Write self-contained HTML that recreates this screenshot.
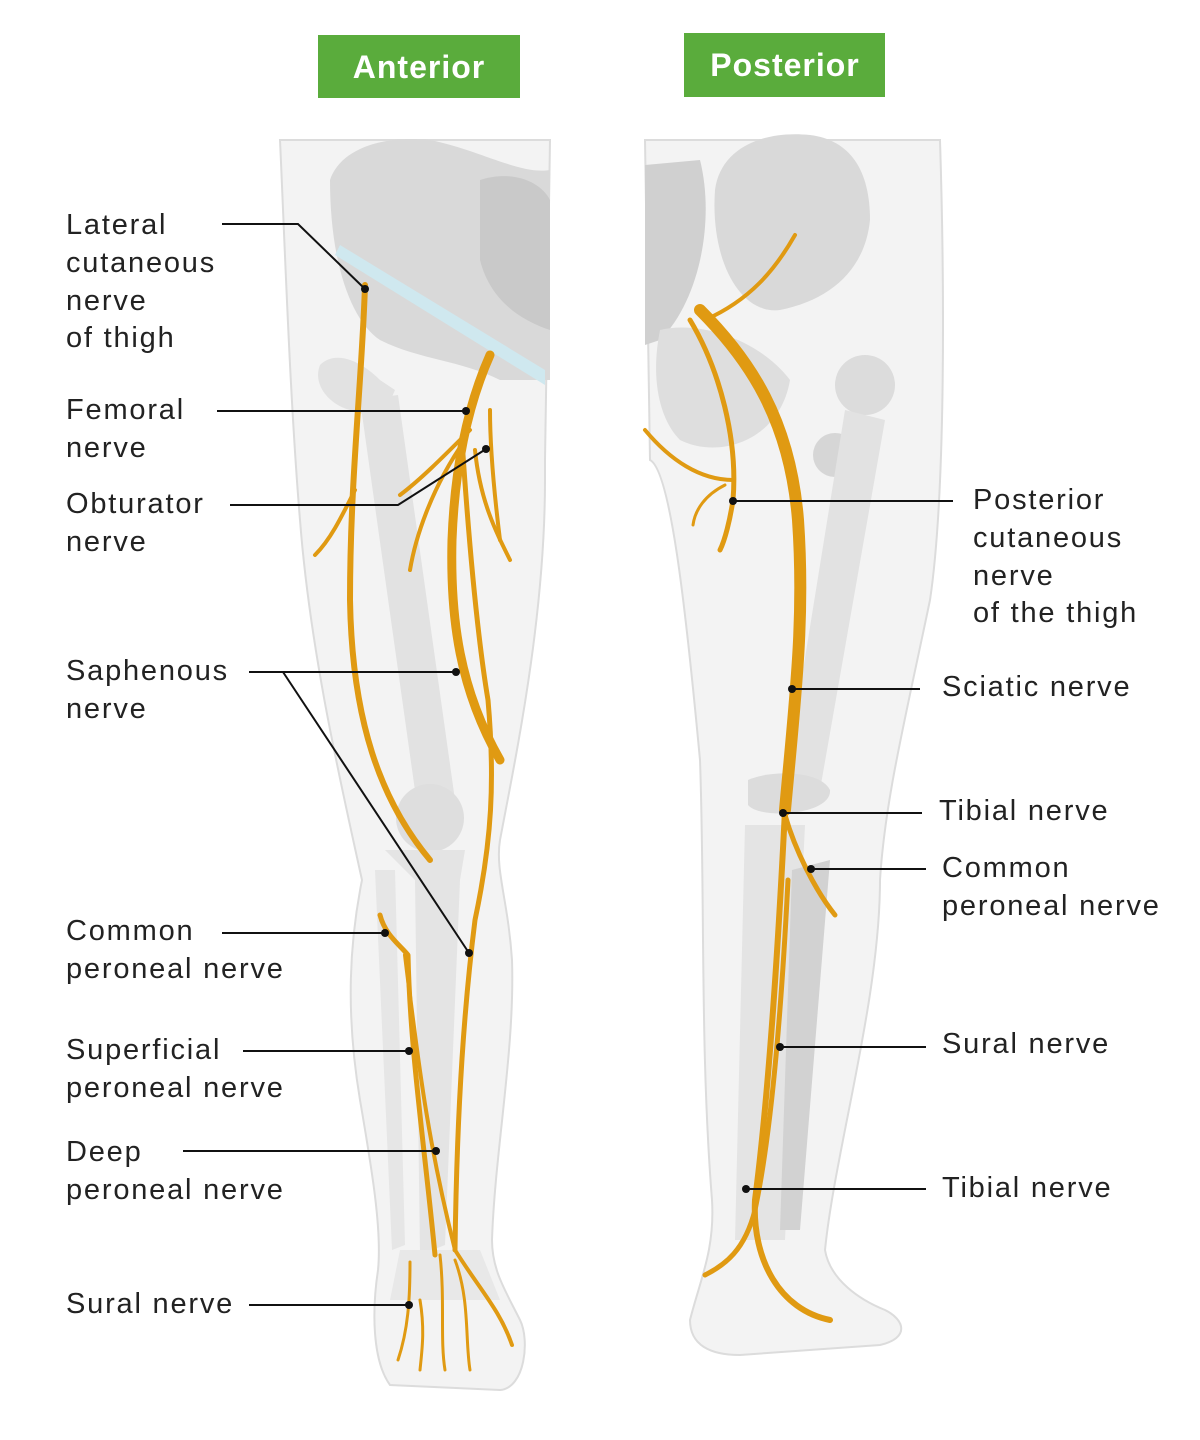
<!DOCTYPE html>
<html><head><meta charset="utf-8"><style>
html,body{margin:0;padding:0;background:#fff}
svg{display:block}
text{font-family:"Liberation Sans",sans-serif;font-size:29px;letter-spacing:1.8px;fill:#222}
</style></head><body>
<svg width="1200" height="1440" viewBox="0 0 1200 1440" xmlns="http://www.w3.org/2000/svg">
<rect x="318" y="35" width="202" height="63" fill="#5aac3c"/>
<text x="419" y="78" text-anchor="middle" style="fill:#fff;font-size:32px;font-weight:600;letter-spacing:1px">Anterior</text>
<rect x="684" y="33" width="201" height="64" fill="#5aac3c"/>
<text x="785" y="76" text-anchor="middle" style="fill:#fff;font-size:32px;font-weight:600;letter-spacing:1px">Posterior</text>

<path d="M280,140 C285,250 290,400 300,520 C310,650 340,780 362,880 C350,940 345,1010 360,1100 C372,1170 382,1230 378,1270 C372,1310 372,1360 390,1385 L500,1390 C525,1388 530,1340 520,1320 C505,1290 492,1270 492,1240 C495,1150 515,1050 512,960 C508,900 495,870 500,840 C515,760 545,620 545,480 L545,460 L550,140 Z" fill="#f3f3f3" stroke="#dcdcdc" stroke-width="2"/>
<path d="M645,140 L650,460 C670,470 685,600 700,760 C705,900 700,1050 712,1200 C715,1250 700,1280 690,1320 C690,1345 710,1355 740,1355 L880,1345 C910,1338 905,1320 885,1310 C860,1300 830,1280 825,1250 C835,1150 880,1000 880,880 C885,800 905,720 930,600 C945,500 945,300 940,140 Z" fill="#f3f3f3" stroke="#dcdcdc" stroke-width="2"/>

<path d="M330,180 C340,150 380,135 430,140 C480,150 520,175 550,170 L550,380 L500,380 C460,360 420,360 380,340 C350,320 330,260 330,180 Z" fill="#d9d9d9"/>
<path d="M480,180 C510,170 540,180 550,200 L550,330 C520,320 490,300 480,260 Z" fill="#c9c9c9"/>
<path d="M320,365 C335,350 360,360 380,380 L395,390 L382,420 L350,410 C330,405 312,385 320,365 Z" fill="#e2e2e2"/>
<path d="M360,400 L398,395 L455,800 L418,812 Z" fill="#e2e2e2"/>
<circle cx="430" cy="818" r="34" fill="#dedede"/>
<path d="M385,850 L465,850 L460,880 L445,1245 L420,1255 L415,880 Z" fill="#e4e4e4"/>
<path d="M375,870 L395,870 L405,1245 L392,1250 Z" fill="#e6e6e6"/>
<path d="M400,1250 L480,1250 L500,1300 L390,1300 Z" fill="#e8e8e8"/>
<path d="M340,245 L545,370 L545,385 L335,255 Z" fill="#cfe8ef"/>

<path d="M715,190 C720,150 760,130 810,135 C850,140 870,170 870,220 C865,270 830,300 780,310 C740,315 710,260 715,190 Z" fill="#d9d9d9"/>
<path d="M645,165 L700,160 C715,220 700,300 660,340 L645,345 Z" fill="#d0d0d0"/>
<path d="M660,330 C700,320 760,340 790,380 C780,440 720,460 680,440 C660,420 650,380 660,330 Z" fill="#dedede"/>
<circle cx="865" cy="385" r="30" fill="#dcdcdc"/>
<circle cx="835" cy="455" r="22" fill="#d6d6d6"/>
<path d="M845,410 L885,420 L820,790 L785,782 Z" fill="#e2e2e2"/>
<path d="M748,780 C770,770 820,770 830,790 C832,815 760,820 748,805 Z" fill="#dcdcdc"/>
<path d="M745,825 L805,825 L785,1240 L735,1240 Z" fill="#e4e4e4"/>
<path d="M792,870 L830,860 L800,1230 L780,1230 Z" fill="#d2d2d2"/>

<g fill="none" stroke="#e09a12" stroke-linecap="round" stroke-linejoin="round">
<path d="M365,285 C362,380 350,480 350,600 C352,720 380,800 430,860" stroke-width="6"/>
<path d="M355,490 C340,520 330,540 315,555" stroke-width="4"/>
<path d="M490,355 C470,400 455,460 452,540 C450,620 460,690 500,760" stroke-width="9"/>
<path d="M470,430 C440,460 420,480 400,495" stroke-width="4"/>
<path d="M465,440 C430,490 415,540 410,570" stroke-width="4"/>
<path d="M462,440 C470,560 478,640 488,700 C495,780 492,840 475,920 C465,1000 457,1100 455,1250" stroke-width="5"/>
<path d="M475,450 C480,500 495,530 510,560" stroke-width="4"/>
<path d="M490,410 C490,450 495,500 500,540" stroke-width="4"/>
<path d="M380,915 C385,935 400,945 408,955 C410,1050 425,1150 435,1255" stroke-width="5"/>
<path d="M405,955 C420,1080 430,1150 455,1250 C480,1290 500,1310 512,1345" stroke-width="4"/>
<path d="M440,1255 C445,1300 440,1340 445,1370" stroke-width="3"/>
<path d="M455,1260 C470,1300 465,1340 470,1370" stroke-width="3"/>
<path d="M410,1262 C410,1300 408,1330 398,1360" stroke-width="3"/>
<path d="M420,1300 C425,1330 422,1350 420,1370" stroke-width="3"/>

<path d="M700,310 C750,360 790,420 798,520 C805,620 795,700 785,810" stroke-width="12"/>
<path d="M785,810 C778,950 768,1100 755,1200 C752,1260 780,1310 830,1320" stroke-width="6"/>
<path d="M785,815 C795,850 815,890 835,915" stroke-width="5"/>
<path d="M788,880 C782,1000 772,1130 755,1210 C745,1250 725,1265 705,1275" stroke-width="5"/>
<path d="M690,320 C720,370 738,440 733,500 C730,520 725,540 720,550" stroke-width="5"/>
<path d="M705,320 C750,300 775,270 795,235" stroke-width="4"/>
<path d="M733,480 C700,480 670,460 645,430" stroke-width="4"/>
<path d="M725,485 C705,495 695,510 693,525" stroke-width="3"/>
</g>

<g fill="none" stroke="#111" stroke-width="2">
<polyline points="222,224 298,224 365,289"/>
<polyline points="217,411 466,411"/>
<polyline points="230,505 398,505 486,449"/>
<polyline points="249,672 456,672"/>
<polyline points="283,672 469,953"/>
<polyline points="222,933 385,933"/>
<polyline points="243,1051 409,1051"/>
<polyline points="183,1151 436,1151"/>
<polyline points="249,1305 409,1305"/>
<polyline points="953,501 733,501"/>
<polyline points="920,689 792,689"/>
<polyline points="922,813 783,813"/>
<polyline points="926,869 811,869"/>
<polyline points="926,1047 780,1047"/>
<polyline points="926,1189 746,1189"/>
</g>
<g fill="#111">
<circle cx="365" cy="289" r="4"/><circle cx="466" cy="411" r="4"/><circle cx="486" cy="449" r="4"/>
<circle cx="456" cy="672" r="4"/><circle cx="469" cy="953" r="4"/><circle cx="385" cy="933" r="4"/>
<circle cx="409" cy="1051" r="4"/><circle cx="436" cy="1151" r="4"/><circle cx="409" cy="1305" r="4"/>
<circle cx="733" cy="501" r="4"/><circle cx="792" cy="689" r="4"/><circle cx="783" cy="813" r="4"/>
<circle cx="811" cy="869" r="4"/><circle cx="780" cy="1047" r="4"/><circle cx="746" cy="1189" r="4"/>
</g>

<text x="66" y="234">Lateral</text>
<text x="66" y="272">cutaneous</text>
<text x="66" y="310">nerve</text>
<text x="66" y="347">of thigh</text>
<text x="66" y="419">Femoral</text>
<text x="66" y="457">nerve</text>
<text x="66" y="513">Obturator</text>
<text x="66" y="551">nerve</text>
<text x="66" y="680">Saphenous</text>
<text x="66" y="718">nerve</text>
<text x="66" y="940">Common</text>
<text x="66" y="978">peroneal nerve</text>
<text x="66" y="1059">Superficial</text>
<text x="66" y="1097">peroneal nerve</text>
<text x="66" y="1161">Deep</text>
<text x="66" y="1199">peroneal nerve</text>
<text x="66" y="1313">Sural nerve</text>
<text x="973" y="509">Posterior</text>
<text x="973" y="547">cutaneous</text>
<text x="973" y="585">nerve</text>
<text x="973" y="622">of the thigh</text>
<text x="942" y="696">Sciatic nerve</text>
<text x="939" y="820">Tibial nerve</text>
<text x="942" y="877">Common</text>
<text x="942" y="915">peroneal nerve</text>
<text x="942" y="1053">Sural nerve</text>
<text x="942" y="1197">Tibial nerve</text>
</svg>
</body></html>
